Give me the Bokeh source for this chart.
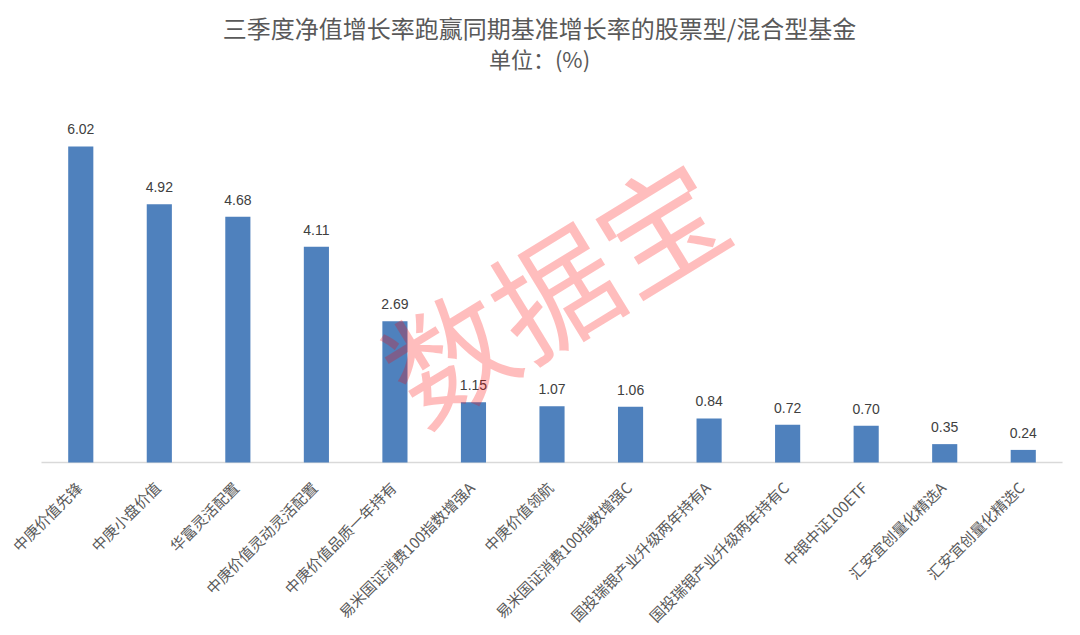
import math
from bokeh.plotting import figure
from bokeh.models import ColumnDataSource, LabelSet, Range1d, Label
from bokeh.transform import dodge
from bokeh.embed import file_html
from bokeh.resources import INLINE
from bokeh.core.properties import value

title_text = "三季度净值增长率跑赢同期基准增长率的股票型/混合型基金"
subtitle_text = "单位：(%)"
watermark_text = "数据宝"

funds = [
    "中庚价值先锋",
    "中庚小盘价值",
    "华富灵活配置",
    "中庚价值灵动灵活配置",
    "中庚价值品质一年持有",
    "易米国证消费100指数增强A",
    "中庚价值领航",
    "易米国证消费100指数增强C",
    "国投瑞银产业升级两年持有A",
    "国投瑞银产业升级两年持有C",
    "中银中证100ETF",
    "汇安宜创量化精选A",
    "汇安宜创量化精选C",
]
values = [6.02, 4.92, 4.68, 4.11, 2.69, 1.15, 1.07, 1.06, 0.84, 0.72, 0.70, 0.35, 0.24]
value_labels = [f"{v:.2f}" for v in values]

# layout constants (pixels)
W, H = 1064, 627
AXIS_LEFT = 41        # left end of category axis
UNIT = 78.54          # px per category
PX_PER_UNIT = 52.5    # px per 1 %
BASE_Y = 462          # baseline, from top of canvas
LBL_DX, LBL_DY = -2, 22  # anchor of rotated category labels relative to tick
n = len(funds)
pos = list(range(n))  # category slot index
x_start = -0.5 - AXIS_LEFT / UNIT

src = ColumnDataSource(dict(pos=pos, fund=funds, val=values, lab=value_labels, zero=[0] * n))

p = figure(
    width=W, height=H,
    x_range=Range1d(x_start, x_start + W / UNIT),
    y_range=Range1d(-(H - BASE_Y) / PX_PER_UNIT, BASE_Y / PX_PER_UNIT),
    output_backend="svg", toolbar_location=None,
    min_border_left=0, min_border_right=0, min_border_bottom=0, min_border_top=0,
)
p.outline_line_color = None
p.background_fill_color = "white"
p.border_fill_color = "white"
p.axis.visible = False
p.xgrid.grid_line_color = None
p.ygrid.grid_line_color = None

# baseline (category axis line)
p.segment(x0=[-0.5], y0=[0], x1=[n - 0.5], y1=[0], line_color="#D9D9D9", line_width=1.5)

p.vbar(x="pos", top="val", width=0.32, source=src, fill_color="#4F81BD", line_color=None)

p.add_layout(LabelSet(x="pos", y="val", text="lab", source=src, text_align="center",
                      text_baseline="bottom", y_offset=12, text_font_size="14px",
                      text_color="#404040", text_font=value("Liberation Sans")))

p.add_layout(LabelSet(x=dodge("pos", LBL_DX / UNIT), y=dodge("zero", -LBL_DY / PX_PER_UNIT),
                      text="fund", source=src, text_align="right",
                      text_baseline="middle", angle=math.pi / 4,
                      text_font_size="15px", text_color="#595959",
                      text_font=value("Noto Sans CJK SC")))

p.add_layout(Label(x=6.0, y=3.35, text=watermark_text, angle=math.radians(31.5),
                   text_align="center", text_baseline="middle", text_font_size="124px",
                   text_font="Noto Sans CJK SC", text_font_style="normal",
                   text_color="red", text_alpha=0.26))

p.add_layout(Label(x=539, y=H - 27, x_units="screen", y_units="screen", text=title_text,
                   text_align="center", text_baseline="middle", text_font_size="24px",
                   text_font="Noto Sans CJK SC", text_color="#595959"))
p.add_layout(Label(x=539, y=H - 57, x_units="screen", y_units="screen", text=subtitle_text,
                   text_align="center", text_baseline="middle", text_font_size="22px",
                   text_font="Noto Sans CJK SC", text_color="#595959"))

open("out.html", "w").write(file_html(p, INLINE))
